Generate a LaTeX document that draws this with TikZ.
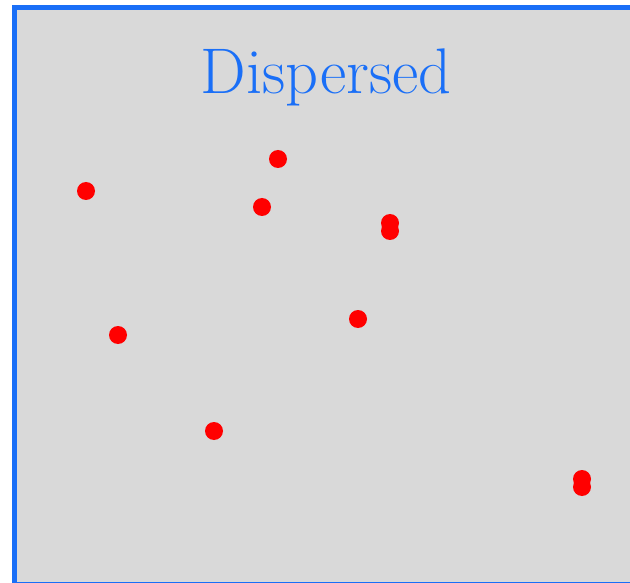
\documentclass[tikz,border=0pt]{standalone}
\usepackage{tikz}
\definecolor{framegray}{HTML}{D9D9D9}
\definecolor{frameblue}{HTML}{1A6FF7}
\begin{document}
\begin{tikzpicture}[x=1pt,y=-1pt,
  spot/.style={circle,fill=red,inner sep=0pt,minimum size=18pt}]
\path[use as bounding box] (0,0) rectangle (630,583);

% frame
\draw[line width=5pt,draw=frameblue,fill=framegray] (14.5,7.5) rectangle (650,584.5);

% title
\node[anchor=base,text=frameblue,font=\fontsize{64.5}{70}\selectfont,inner sep=0pt]
  (title) at (326,94) {Dispersed};

% points
\foreach \px/\py [count=\i] in {86/191,278/159,262/207,390/223,390/231,
    118/335,358/319,214/431,582/479,582/487}
  \node[spot] (p\i) at (\px,\py) {};
\end{tikzpicture}
\end{document}
